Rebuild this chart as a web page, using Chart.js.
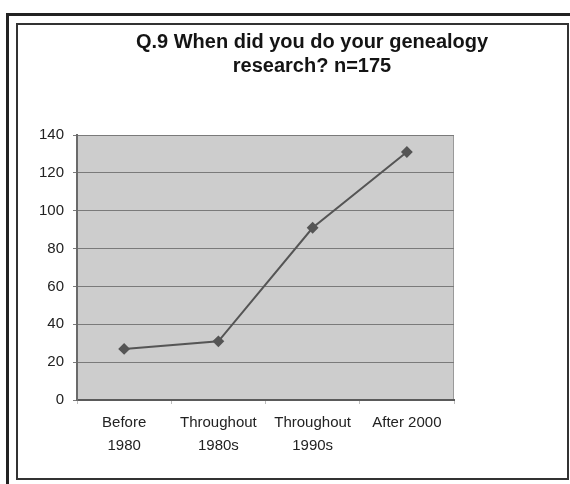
<!DOCTYPE html>
<html>
<head>
<meta charset="utf-8">
<script src="https://cdn.jsdelivr.net/npm/chart.js@4/dist/chart.umd.min.js"></script>
<style>
  html, body { margin: 0; padding: 0; background: #ffffff; }
  #wrap { position: relative; width: 570px; height: 484px; overflow: hidden; }
  canvas { position: absolute; left: 0; top: 0; }
  .outer { position: absolute; left: 6px; top: 13px; width: 600px; height: 500px;
           border-left: 3px solid #222; border-top: 3px solid #222; box-sizing: border-box; }
  .inner { position: absolute; left: 16px; top: 23px; width: 553px; height: 457px;
           border: 2px solid #333; box-sizing: border-box; }
</style>
</head>
<body>
<div id="wrap">
  <canvas id="chart" width="624" height="484"></canvas>
  <div class="outer"></div>
  <div class="inner"></div>
</div>
<script>
const titleLines = ['Q.9 When did you do your genealogy', 'research? n=175'];
const categories = [['Before', '1980'], ['Throughout', '1980s'], ['Throughout', '1990s'], 'After 2000'];
const responses = [27, 31, 91, 131];
const yTicks = [0, 20, 40, 60, 80, 100, 120, 140];

const FONT = "'Liberation Sans', Arial, sans-serif";

// grey plot-area fill with a thin frame
const plotBackground = {
  id: 'plotBackground',
  beforeDraw(chart) {
    const { ctx, chartArea: a } = chart;
    ctx.save();
    ctx.fillStyle = '#cdcdcd';
    ctx.fillRect(a.left, a.top, a.right - a.left, a.bottom - a.top);
    ctx.strokeStyle = '#9a9a9a';
    ctx.lineWidth = 1;
    ctx.strokeRect(a.left + 0.5, a.top + 0.5, a.right - a.left - 1, a.bottom - a.top - 1);
    ctx.restore();
  }
};

new Chart(document.getElementById('chart'), {
  type: 'line',
  data: {
    labels: categories,
    datasets: [{
      data: responses,
      borderColor: '#555555',
      borderWidth: 2,
      backgroundColor: '#555555',
      pointStyle: 'rectRot',
      pointRadius: 4.5,
      pointBackgroundColor: '#555555',
      pointBorderColor: '#555555',
      tension: 0
    }]
  },
  options: {
    responsive: false,
    animation: false,
    layout: { padding: 0 },
    plugins: {
      legend: { display: false },
      tooltip: { enabled: false },
      title: {
        display: true,
        text: titleLines,
        color: '#141414',
        font: { family: FONT, size: 20, weight: 'bold', lineHeight: 1.2 },
        padding: { top: 30, bottom: 57 }
      }
    },
    scales: {
      x: {
        offset: true,
        afterFit(scale) { scale.height = 84; },
        grid: {
          offset: true,
          drawOnChartArea: false,
          drawTicks: true,
          tickLength: 4,
          color: '#bdbdbd'
        },
        border: { display: true, color: '#5a5a5a', width: 2 },
        ticks: {
          color: '#222222',
          padding: 7,
          maxRotation: 0,
          autoSkip: false,
          font: { family: FONT, size: 15, lineHeight: 1.55 }
        }
      },
      y: {
        min: 0,
        max: 140,
        afterFit(scale) { scale.width = 77; },
        afterBuildTicks(scale) { scale.ticks = yTicks.map(v => ({ value: v })); },
        grid: {
          color: '#7a7a7a',
          lineWidth: 1,
          tickLength: 4,
          tickColor: '#7a7a7a'
        },
        border: { display: true, color: '#6a6a6a', width: 2 },
        ticks: {
          color: '#222222',
          padding: 9,
          font: { family: FONT, size: 15 }
        }
      },
      yRight: {
        position: 'right',
        display: true,
        afterFit(scale) { scale.width = 170; },
        grid: { display: false },
        border: { display: false },
        ticks: { display: false }
      }
    }
  },
  plugins: [plotBackground]
});
</script>
</body>
</html>
